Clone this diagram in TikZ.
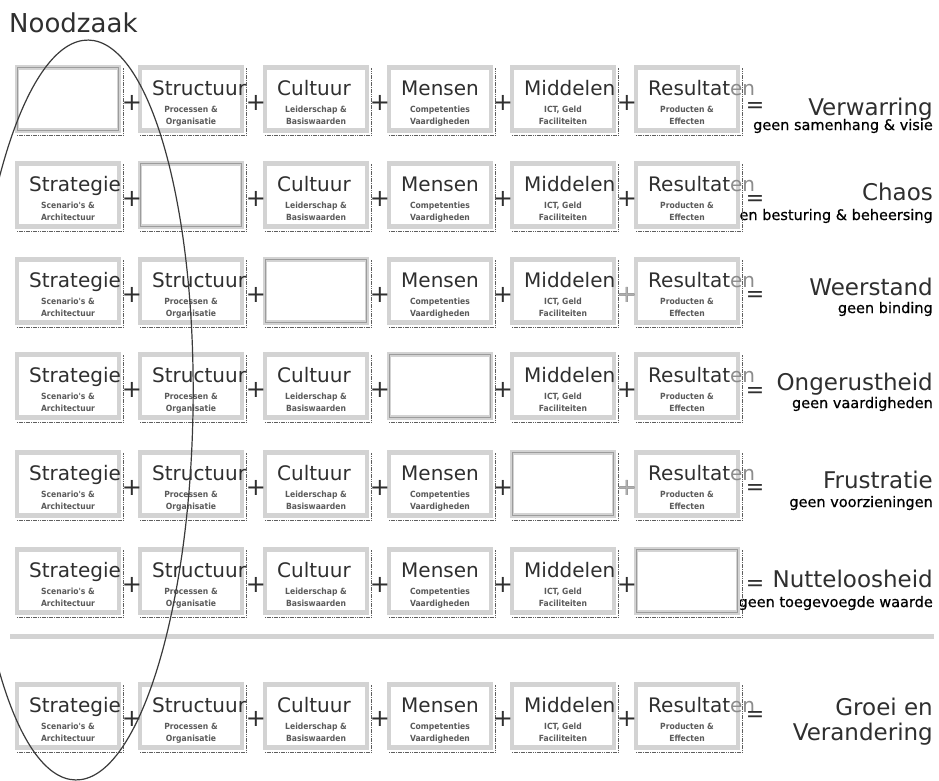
\documentclass[tikz,border=0pt]{standalone}
\usepackage{fontspec}
\setmainfont{DejaVu Sans}
\newfontfamily\condf{DejaVu Sans Condensed}
\newfontfamily\subf{DejaVu Sans}[FakeBold=0.6]
\definecolor{band}{HTML}{D3D3D3}
\definecolor{shade}{HTML}{5E5E5E}
\definecolor{ink}{HTML}{2F2F2F}
\definecolor{softink}{HTML}{8C8C8C}
\definecolor{smallink}{HTML}{5A5A5A}
\definecolor{innerline}{HTML}{9C9C9C}
\definecolor{ringcol}{HTML}{3A3A3A}
\tikzset{
 boxnode/.style={rectangle, minimum width=102pt, minimum height=63pt, inner sep=0pt, fill=white, draw=band, line width=4.5pt},
 shadowline/.style={draw=shade, line width=0.9pt, dash pattern=on 1.6pt off 0.7pt},
 innerbox/.style={draw=innerline, line width=1pt},
 boxtitle/.style={anchor=base west, inner sep=0pt, text=ink, font=\fontsize{20}{24}\selectfont},
 boxsmall/.style={anchor=base, inner sep=0pt, text=smallink, font=\condf\bfseries\fontsize{8.5}{10}\selectfont},
 plussign/.style={inner sep=0pt, text=ink, font=\fontsize{24}{29}\selectfont},
 eqsign/.style={inner sep=0pt, text=ink, font=\fontsize{22}{27}\selectfont},
 rtitle/.style={anchor=base east, inner sep=0pt, text=ink, font=\fontsize{23}{28}\selectfont},
 rsub/.style={anchor=base east, inner sep=0pt, text=black, font=\subf\fontsize{14.5}{17}\selectfont},
 sepline/.style={draw=band, line width=5pt},
 ring/.style={draw=ringcol, line width=1.2pt},
 headline/.style={anchor=base west, inner sep=0pt, text=ink, font=\fontsize{26}{31}\selectfont},
}
\begin{document}
\begin{tikzpicture}[x=1pt,y=-1pt]
\useasboundingbox (0,0) rectangle (939,780);
\fill[white] (0,0) rectangle (939,780);

% heading
\node[headline] (head) at (9,32) {Noodzaak};

% right-hand labels (drawn first, boxes may cover their start)
\node[rtitle] (t1) at (933,115) {Verwarring};
\node[rsub]   (s1) at (933,130) {geen samenhang \& visie};
\node[rtitle] (t2) at (933,200) {Chaos};
\node[rsub]   (s2) at (933,220) {geen besturing \& beheersing};
\node[rtitle] (t3) at (933,295) {Weerstand};
\node[rsub]   (s3) at (933,313) {geen binding};
\node[rtitle] (t4) at (933,390) {Ongerustheid};
\node[rsub]   (s4) at (933,408) {geen vaardigheden};
\node[rtitle] (t5) at (933,488) {Frustratie};
\node[rsub]   (s5) at (933,507) {geen voorzieningen};
\node[rtitle] (t6) at (933,587) {Nutteloosheid};
\node[rsub]   (s6) at (933,607) {geen toegevoegde waarde};
\node[rtitle] (t7) at (933,715) {Groei en};
\node[rtitle] (s7) at (933,740) {Verandering};

% boxes
\foreach \r/\yy in {1/99,2/195,3/291,4/386,5/484,6/581,7/716} {
  \foreach \c/\xx/\tt/\la/\lb in {
      1/68/{Strategie}/{Scenario's \&}/{Architectuur},
      2/191/{Structuur}/{Processen \&}/{Organisatie},
      3/316/{Cultuur}/{Leiderschap \&}/{Basiswaarden},
      4/440/{Mensen}/{Competenties}/{Vaardigheden},
      5/563/{Middelen}/{ICT, Geld}/{Faciliteiten},
      6/687/{Resultat\textcolor{softink}{en}}/{Producten \&}/{Effecten}} {
    \node[boxnode] (b\r\c) at (\xx,\yy) {};
    \draw[shadowline] ([xshift=2.6pt,yshift=-3pt]b\r\c.north east)
       -- ([xshift=2.6pt,yshift=-2.6pt]b\r\c.south east)
       -- ([xshift=2pt,yshift=-2.6pt]b\r\c.south west);
    \ifnum\c=\r
      \draw[innerbox] ([shift={(2.6pt,2.6pt)}]b\r\c.south west) rectangle ([shift={(-2.6pt,-2.6pt)}]b\r\c.north east);
    \else
      \node[boxtitle] (h\r\c) at ([xshift=-39pt,yshift=4pt]b\r\c.center) {\tt};
      \node[boxsmall] (u\r\c) at ([yshift=-13pt]b\r\c.center) {\la};
      \node[boxsmall] (v\r\c) at ([yshift=-25pt]b\r\c.center) {\lb};
    \fi
  }
}

% plus signs
\foreach \r/\yy in {1/103,2/199,3/295,4/390,5/488,6/585,7/719} {
  \foreach \k/\xx in {1/132,2/256,3/380,4/503,5/627} {
    \node[plussign] (p\r\k) at (\xx,\yy) {+};
  }
}
\node[plussign, text=softink!70] (p35b) at (p35) {+};
\node[plussign, text=softink!70] (p55b) at (p55) {+};

% equals signs
\foreach \r/\yy in {1/107,2/200,3/296,4/392,5/489,6/585,7/716} {
  \node[eqsign] (e\r) at (755,\yy) {=};
}

% separator
\coordinate (sepL) at (10,636);
\coordinate (sepR) at (934,636);
\draw[sepline] (sepL) -- (sepR);

% ring
\draw[ring, rotate around={-1:(82,410)}] (82,410) ellipse [x radius=111pt, y radius=370pt];
\end{tikzpicture}
\end{document}
